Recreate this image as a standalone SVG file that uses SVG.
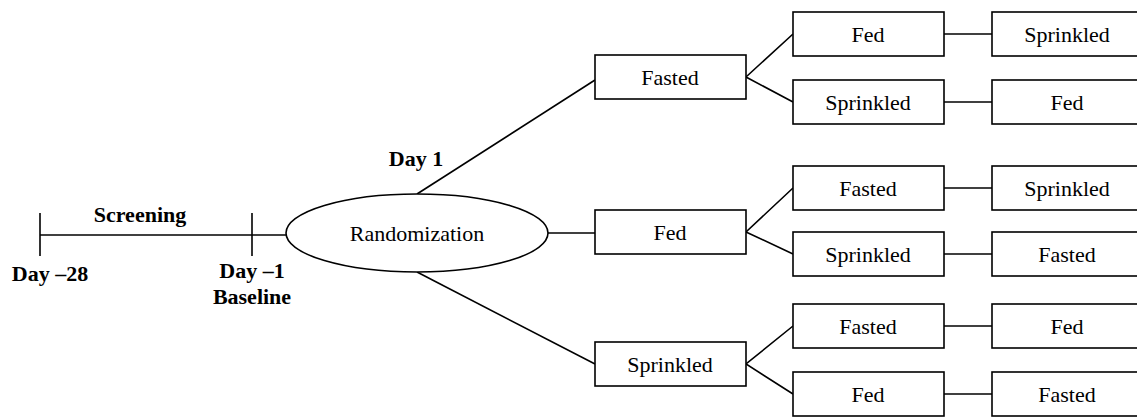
<svg xmlns="http://www.w3.org/2000/svg" width="1137" height="417" viewBox="0 0 1137 417">
<style>
.b{fill:#fff;stroke:#000;stroke-width:1.6}
.l{fill:none;stroke:#000;stroke-width:1.6}
text{font-family:"Liberation Serif","Times New Roman",serif;font-size:22px;fill:#000;text-anchor:middle}
.bd{font-weight:bold}
</style>
<rect width="1137" height="417" fill="#fff"/>
<g id="connectors" class="l">
<line x1="40" y1="235" x2="286" y2="235"/>
<line x1="40" y1="213" x2="40" y2="256"/>
<line x1="252" y1="213" x2="252" y2="256"/>
<line x1="417" y1="194" x2="595" y2="80"/>
<line x1="548" y1="233" x2="595" y2="233"/>
<line x1="417" y1="272" x2="595" y2="364"/>
<polyline points="793,34 746,77 793,102"/>
<polyline points="793,188 746,232 793,254"/>
<polyline points="793,326 746,364 793,394"/>
<line x1="944" y1="34" x2="992" y2="34"/>
<line x1="944" y1="102" x2="992" y2="102"/>
<line x1="944" y1="188" x2="992" y2="188"/>
<line x1="944" y1="254" x2="992" y2="254"/>
<line x1="944" y1="326" x2="992" y2="326"/>
<line x1="944" y1="394" x2="992" y2="394"/>
</g>
<g id="timeline-labels">
<text class="bd" x="140" y="222">Screening</text>
<text class="bd" x="50" y="281">Day –28</text>
<text class="bd" x="252" y="278">Day –1</text>
<text class="bd" x="252" y="304">Baseline</text>
<text class="bd" x="416" y="166">Day 1</text>
</g>
<g id="randomization">
<ellipse class="b" cx="417" cy="233" rx="131" ry="39"/>
<text x="417" y="241">Randomization</text>
</g>
<g id="l1-fasted"><rect class="b" x="595" y="55" width="151" height="44"/><text x="670" y="85">Fasted</text></g>
<g id="l1-fed"><rect class="b" x="595" y="210" width="151" height="44"/><text x="670" y="240">Fed</text></g>
<g id="l1-sprinkled"><rect class="b" x="595" y="342" width="151" height="44"/><text x="670" y="372">Sprinkled</text></g>
<g id="a2-fed"><rect class="b" x="793" y="12" width="151" height="44"/><text x="868" y="42">Fed</text></g>
<g id="a2-sprinkled"><rect class="b" x="793" y="80" width="151" height="44"/><text x="868" y="110">Sprinkled</text></g>
<g id="a3-sprinkled"><rect class="b" x="992" y="12" width="155" height="44"/><text x="1067" y="42">Sprinkled</text></g>
<g id="a3-fed"><rect class="b" x="992" y="80" width="155" height="44"/><text x="1067" y="110">Fed</text></g>
<g id="b2-fasted"><rect class="b" x="793" y="166" width="151" height="44"/><text x="868" y="196">Fasted</text></g>
<g id="b2-sprinkled"><rect class="b" x="793" y="232" width="151" height="44"/><text x="868" y="262">Sprinkled</text></g>
<g id="b3-sprinkled"><rect class="b" x="992" y="166" width="155" height="44"/><text x="1067" y="196">Sprinkled</text></g>
<g id="b3-fasted"><rect class="b" x="992" y="232" width="155" height="44"/><text x="1067" y="262">Fasted</text></g>
<g id="c2-fasted"><rect class="b" x="793" y="304" width="151" height="44"/><text x="868" y="334">Fasted</text></g>
<g id="c2-fed"><rect class="b" x="793" y="372" width="151" height="44"/><text x="868" y="402">Fed</text></g>
<g id="c3-fed"><rect class="b" x="992" y="304" width="155" height="44"/><text x="1067" y="334">Fed</text></g>
<g id="c3-fasted"><rect class="b" x="992" y="372" width="155" height="44"/><text x="1067" y="402">Fasted</text></g>
</svg>
